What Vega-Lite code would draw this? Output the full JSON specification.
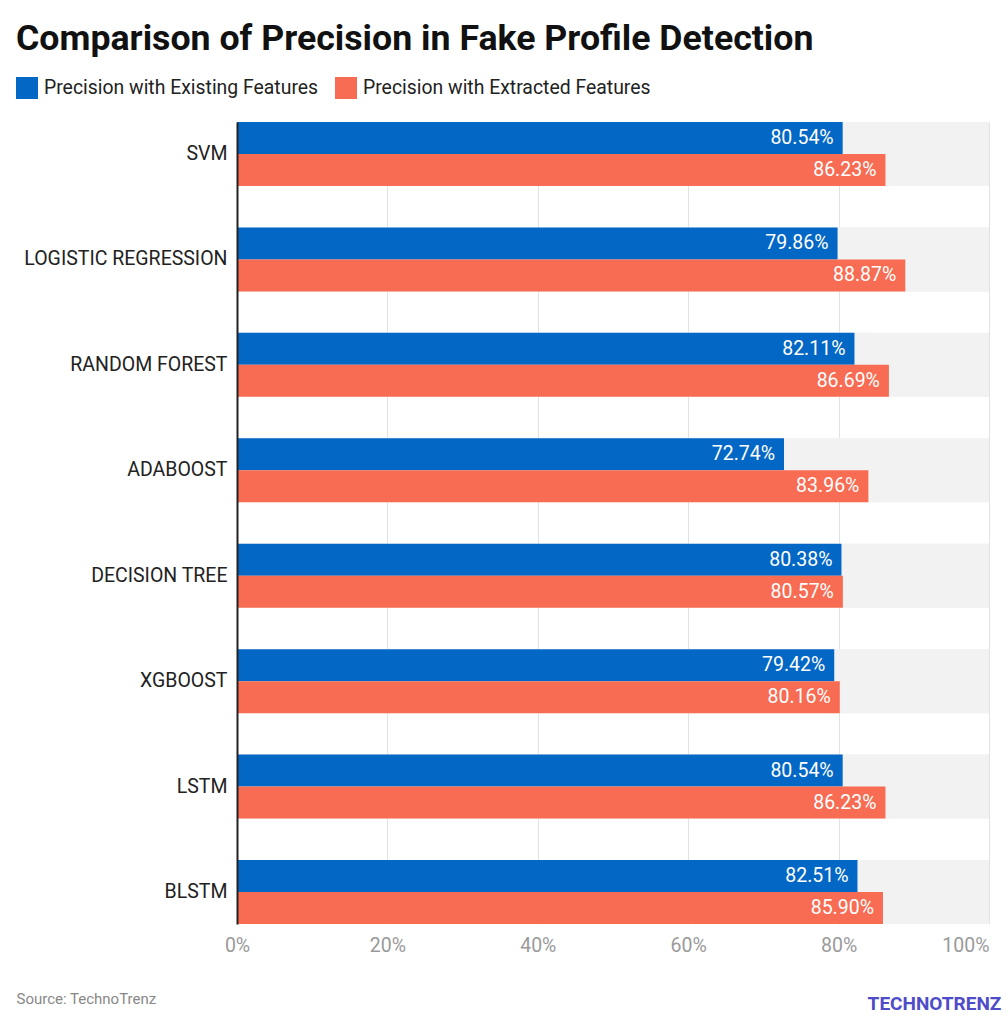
{
  "$schema": "https://vega.github.io/schema/vega-lite/v6.json",
  "width": 752,
  "height": 802,
  "autosize": {"type": "none"},
  "padding": {"left": 237, "top": 122, "right": 17, "bottom": 100},
  "background": "white",
  "config": {
    "font": "Roboto",
    "view": {"stroke": null}
  },
  "title": {
    "text": "Comparison of Precision in Fake Profile Detection",
    "anchor": "start",
    "frame": "group",
    "dx": -221,
    "dy": -15,
    "fontSize": 35.7,
    "fontWeight": "bold",
    "font": "Roboto",
    "color": "#111111"
  },
  "data": {
    "values": [
      {"model": "SVM", "series": "Precision with Existing Features", "value": 0.8054},
      {"model": "SVM", "series": "Precision with Extracted Features", "value": 0.8623},
      {"model": "LOGISTIC REGRESSION", "series": "Precision with Existing Features", "value": 0.7986},
      {"model": "LOGISTIC REGRESSION", "series": "Precision with Extracted Features", "value": 0.8887},
      {"model": "RANDOM FOREST", "series": "Precision with Existing Features", "value": 0.8211},
      {"model": "RANDOM FOREST", "series": "Precision with Extracted Features", "value": 0.8669},
      {"model": "ADABOOST", "series": "Precision with Existing Features", "value": 0.7274},
      {"model": "ADABOOST", "series": "Precision with Extracted Features", "value": 0.8396},
      {"model": "DECISION TREE", "series": "Precision with Existing Features", "value": 0.8038},
      {"model": "DECISION TREE", "series": "Precision with Extracted Features", "value": 0.8057},
      {"model": "XGBOOST", "series": "Precision with Existing Features", "value": 0.7942},
      {"model": "XGBOOST", "series": "Precision with Extracted Features", "value": 0.8016},
      {"model": "LSTM", "series": "Precision with Existing Features", "value": 0.8054},
      {"model": "LSTM", "series": "Precision with Extracted Features", "value": 0.8623},
      {"model": "BLSTM", "series": "Precision with Existing Features", "value": 0.8251},
      {"model": "BLSTM", "series": "Precision with Extracted Features", "value": 0.8590}
    ]
  },
  "encoding": {
    "y": {
      "field": "model",
      "type": "nominal",
      "sort": ["SVM", "LOGISTIC REGRESSION", "RANDOM FOREST", "ADABOOST", "DECISION TREE", "XGBOOST", "LSTM", "BLSTM"],
      "scale": {"paddingInner": 0.393, "paddingOuter": 0},
      "axis": {
        "zindex": 1,
        "title": "TECHNOTRENZ",
        "titleAngle": 0,
        "titleX": 697,
        "titleY": 881,
        "titleAlign": "center",
        "titleBaseline": "middle",
        "titleFontSize": 19,
        "titleFontWeight": "bold",
        "titleColor": "#4f4cc9",
        "domain": true,
        "domainColor": "#222222",
        "domainWidth": 2,
        "ticks": false,
        "grid": false,
        "labelFontSize": 19.5,
        "labelColor": "#222222",
        "labelPadding": 10,
        "labelLimit": 400
      }
    }
  },
  "layer": [
    {
      "mark": {"type": "bar", "color": "#f2f2f2"},
      "encoding": {
        "x": {
          "datum": 1,
          "type": "quantitative",
          "scale": {"domain": [0, 1]},
          "axis": {
            "values": [0, 0.2, 0.4, 0.6, 0.8, 1],
            "format": ".0%",
            "grid": true,
            "gridColor": "#e2e2e2",
            "gridWidth": 1,
            "domain": false,
            "ticks": false,
            "labelFlush": false,
            "labelAlign": {"expr": "datum.value === 1 ? 'right' : 'center'"},
            "labelColor": "#9a9a9a",
            "labelFontSize": 19.5,
            "labelPadding": 12,
            "title": "Source: TechnoTrenz",
            "titleX": -221,
            "titleY": 79,
            "titleAlign": "left",
            "titleAnchor": "start",
            "titleBaseline": "alphabetic",
            "titleFontSize": 15,
            "titleFontWeight": "normal",
            "titleColor": "#888888"
          }
        }
      }
    },
    {
      "mark": {"type": "bar"},
      "encoding": {
        "x": {"field": "value", "type": "quantitative"},
        "yOffset": {
          "field": "series",
          "type": "nominal",
          "scale": {"paddingInner": 0, "paddingOuter": 0}
        },
        "color": {
          "field": "series",
          "type": "nominal",
          "scale": {
            "domain": ["Precision with Existing Features", "Precision with Extracted Features"],
            "range": ["#0367c6", "#f76c53"]
          },
          "legend": {
            "title": null,
            "orient": "none",
            "direction": "horizontal",
            "legendX": -221,
            "legendY": -45,
            "symbolType": "square",
            "symbolSize": 484,
            "symbolStrokeWidth": 0,
            "symbolOpacity": 1,
            "labelFontSize": 19.4,
            "labelColor": "#222222",
            "labelOffset": 6,
            "labelLimit": 400,
            "columnPadding": 16
          }
        }
      }
    },
    {
      "mark": {"type": "text", "align": "right", "dx": -9, "color": "white", "fontSize": 19.5, "baseline": "middle"},
      "encoding": {
        "x": {"field": "value", "type": "quantitative"},
        "yOffset": {"field": "series", "type": "nominal"},
        "text": {"field": "value", "type": "quantitative", "format": ".2%"}
      }
    }
  ]
}
